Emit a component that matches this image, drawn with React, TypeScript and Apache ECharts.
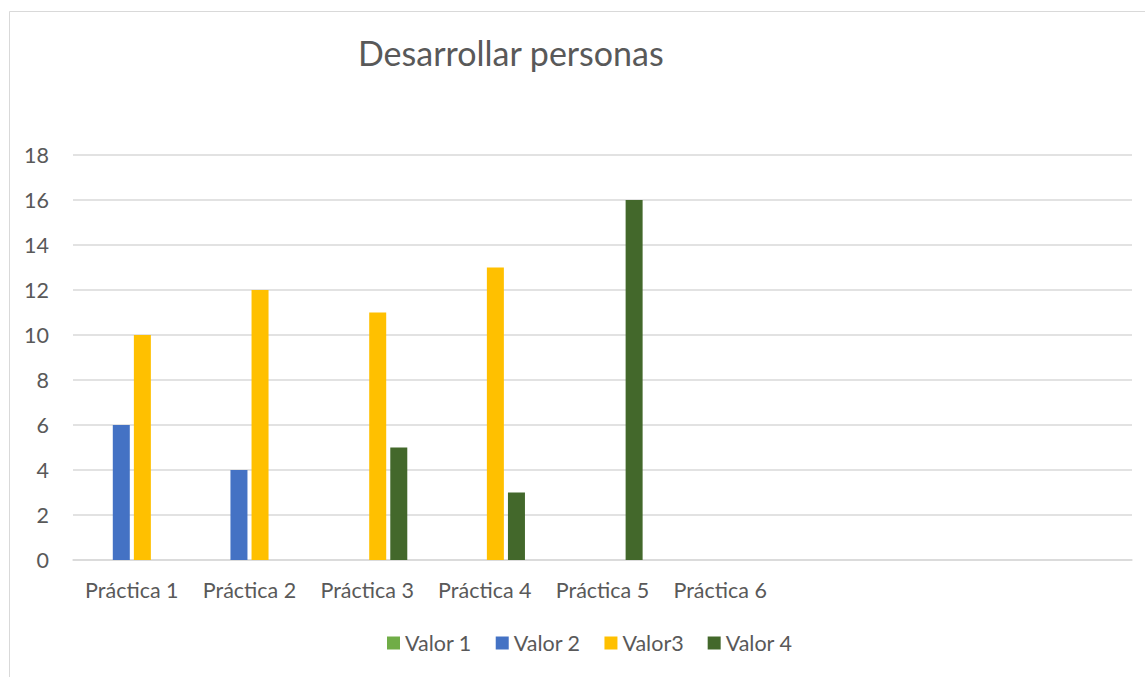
import React, { useEffect, useRef } from "react";
import * as echarts from "echarts";

const categories = ["Práctica 1", "Práctica 2", "Práctica 3", "Práctica 4", "Práctica 5", "Práctica 6", "", "", ""];
const valor1 = [0, 0, 0, 0, 0, null, null, null, null];
const valor2 = [6, 4, 0, 0, 0, null, null, null, null];
const valor3 = [10, 12, 11, 13, 0, null, null, null, null];
const valor4 = [0, 0, 5, 3, 16, null, null, null, null];
const seriesNames = ["Valor 1", "Valor 2", "Valor3", "Valor 4"];
const seriesColors = ["#70AD47", "#4472C4", "#FFC000", "#43682B"];

const FONT = "Lato, 'Open Sans', sans-serif";
const TEXT = "#595959";

export default function App() {
  const ref = useRef<HTMLDivElement>(null);
  useEffect(() => {
    if (!ref.current) return;
    const chart = echarts.init(ref.current, null, { renderer: "svg" });
    const data = [valor1, valor2, valor3, valor4];
    chart.setOption({
      animation: false,
      backgroundColor: "#ffffff",
      textStyle: { fontFamily: FONT, color: TEXT },
      title: {
        text: "Desarrollar personas",
        left: 353,
        top: 30,
        textStyle: { fontFamily: FONT, fontSize: 34, fontWeight: "normal", color: TEXT },
      },
      graphic: [
        {
          type: "rect",
          shape: { x: 9.5, y: 11.5, width: 1300, height: 800 },
          style: { fill: "none", stroke: "#d9d9d9", lineWidth: 1 },
          silent: true,
          z: -1,
        },
      ],
      legend: {
        data: seriesNames,
        top: 627,
        left: 382,
        itemWidth: 13,
        itemHeight: 13,
        itemGap: 24,
        icon: "rect",
        textStyle: { fontFamily: FONT, fontSize: 21.5, color: TEXT },
      },
      grid: { left: 73, right: 13, top: 155, bottom: 117, containLabel: false },
      xAxis: {
        type: "category",
        data: categories,
        axisLine: { lineStyle: { color: "#d9d9d9", width: 1.5 } },
        axisTick: { show: false },
        axisLabel: { fontFamily: FONT, fontSize: 21.5, color: TEXT, margin: 19, interval: 0 },
      },
      yAxis: {
        type: "value",
        min: 0,
        max: 18,
        interval: 2,
        axisLine: { show: false },
        axisTick: { show: false },
        splitLine: { lineStyle: { color: "#d9d9d9", width: 1.5 } },
        axisLabel: { fontFamily: FONT, fontSize: 21.5, color: TEXT, margin: 24 },
      },
      series: seriesNames.map((name, i) => ({
        name,
        type: "bar",
        data: data[i],
        barWidth: 17,
        barGap: "24%",
        itemStyle: { color: seriesColors[i] },
      })),
    });
    return () => chart.dispose();
  }, []);
  return <div ref={ref} style={{ position: "absolute", left: 0, top: 0, width: 1145, height: 677 }} />;
}
